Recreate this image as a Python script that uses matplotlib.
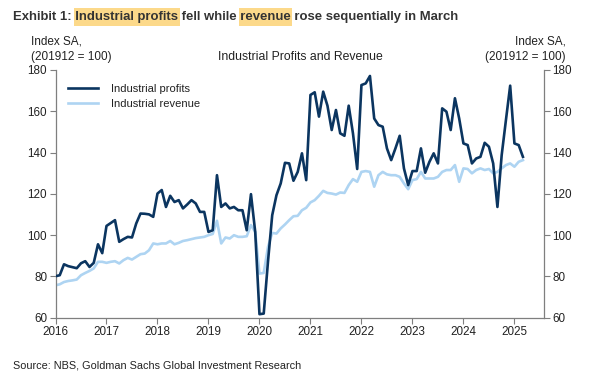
import matplotlib
matplotlib.use("Agg")
import matplotlib.pyplot as plt
import numpy as np
from matplotlib.patches import Rectangle

plt.rcParams['font.family'] = ['Liberation Sans', 'DejaVu Sans']

start_year = 2016
profits = [
    80, 80.5, 85.8, 84.9, 84.4, 83.9, 86.3, 87.3, 84.5, 86.5, 95.5, 91.2,
    104.4, 105.8, 107.2, 96.7, 98, 99.1, 98.8, 105.6, 110.4, 110.3, 110, 108.8,
    120.1, 121.8, 113.6, 119, 116, 116.9, 112.9, 114.8, 116.9, 115.3, 111.2, 111.2,
    101.5, 102.3, 129, 113.6, 115.3, 112.9, 113.6, 112, 112, 102.3, 119.8, 101.5,
    61.6, 61.9, 87, 109.6, 119.3, 125, 135, 134.7, 126.3, 130.6, 139.6, 126.6,
    167.9, 169.2, 157.4, 169.5, 162.7, 150.9, 160.6, 149.3, 148.1, 162.7, 149.3, 132,
    172.7, 173.5, 177.1, 156.5, 153.3, 152.5, 142, 136.3, 142, 148.1, 132.3, 124.2,
    131, 131, 142, 130.2, 135.5, 139.6, 134.7, 161.4, 159.8, 150.9, 166.3, 156.5,
    144.4, 143.6, 134.7, 137.1, 137.9, 144.7, 142.8, 134.7, 113.6, 138.7, 155.7, 172.4,
    144.4, 143.6, 137.9,
]
revenue = [
    75.6, 76.1, 77.2, 77.7, 78, 78.4, 80.5, 81.6, 82.6, 83.8, 87, 87,
    86.5, 87, 87.3, 86.2, 87.8, 88.9, 88.1, 89.4, 90.7, 91, 92.6, 95.9,
    95.5, 95.9, 95.9, 97.1, 95.5, 96.2, 97.1, 97.5, 98, 98.5, 98.8, 99.1,
    99.9, 100.5, 106.9, 95.9, 98.8, 98.3, 99.9, 99.1, 99.1, 99.4, 104.8, 101.5,
    81.3, 81.6, 94.2, 101, 100.7, 103.2, 105.1, 107.2, 109.1, 109.3, 112, 113.2,
    115.8, 116.9, 119, 121.4, 120.4, 120.1, 119.6, 120.6, 120.4, 124.2, 127.1, 125.8,
    130.6, 131, 130.6, 123.4, 129, 130.6, 129.4, 129, 129, 128.2, 125, 122.2,
    126.6, 127.1, 130.6, 127.4, 127.4, 127.4, 128.2, 130.6, 131.5, 131.5, 133.9, 125.8,
    132.3, 132, 129.9, 131.5, 132.3, 131.5, 132, 129.9, 130.6, 132.3, 133.9, 134.7,
    133.1, 135.5, 136.3,
]
year_ticks = list(range(2016, 2026))
y_ticks = [60, 80, 100, 120, 140, 160, 180]

dates = start_year + np.arange(len(profits)) / 12.0

DARK = '#0b3560'
LIGHT = '#aed4f2'
SPINE = '#7f7f7f'
TXT = '#222222'

fig = plt.figure(figsize=(6.03, 3.80), dpi=100)
ax = fig.add_axes([55.5/603, 1-317.5/380, (544-55.5)/603, (317.5-70)/380])

ax.plot(dates, profits, color=DARK, lw=1.9, label='Industrial profits', zorder=3)
ax.plot(dates, revenue, color=LIGHT, lw=1.9, label='Industrial revenue', zorder=2)

ax.set_xlim(2016, 2025.58)
ax.set_ylim(60, 180)
ax.set_xticks(year_ticks)
ax.set_xticklabels([str(y) for y in year_ticks])
ax.set_yticks(y_ticks)
ax.tick_params(axis='both', direction='out', length=4, width=0.8, color=SPINE,
               labelsize=8.4, labelcolor=TXT, pad=2)
ax.tick_params(axis='y', which='both', left=True, right=True, labelleft=True, labelright=True)
for s in ['left', 'right', 'bottom']:
    ax.spines[s].set_color(SPINE)
    ax.spines[s].set_linewidth(0.9)
ax.spines['top'].set_visible(False)

leg = ax.legend(loc='upper left', bbox_to_anchor=(0.01, 0.975), frameon=False, fontsize=8,
                handlelength=2.7, handletextpad=1.2, labelspacing=0.45, borderaxespad=0.3)
for t in leg.get_texts():
    t.set_color(TXT)

fig.text(300/603, 1-57/380, 'Industrial Profits and Revenue', ha='center', va='center',
         fontsize=8.8, color=TXT)
for xpos, ha in [(31/603, 'left'), (566/603, 'right')]:
    fig.text(xpos, 1-42/380, 'Index SA,', ha=ha, va='center', fontsize=8.5, color=TXT)
    fig.text(xpos, 1-57/380, '(201912 = 100)', ha=ha, va='center', fontsize=8.5, color=TXT)

# Title with highlighted words
title = 'Exhibit 1: Industrial profits fell while revenue rose sequentially in March'
tx, ty = 13/603, 1-17/380
tfs = 9.45
title_text = fig.text(tx, ty, title, ha='left', va='center', fontsize=tfs,
                      fontweight='bold', color='#333333', zorder=5)
fig.canvas.draw()
renderer = fig.canvas.get_renderer()

def end_x(prefix):
    t = fig.text(tx, ty, prefix, ha='left', va='center', fontsize=tfs, fontweight='bold', alpha=0)
    bb = t.get_window_extent(renderer)
    t.remove()
    return bb.x1

space = 0.278 * tfs * 100 / 72
HL = '#fcd98a'
for pre, word in [('Exhibit 1:', 'Exhibit 1: Industrial profits'),
                  ('Exhibit 1: Industrial profits fell while', 'Exhibit 1: Industrial profits fell while revenue')]:
    x0 = end_x(pre) + space - 1.5
    x1 = end_x(word) + 1.5
    fig.patches.append(Rectangle((x0/603, 1-25.5/380), (x1-x0)/603, 17/380,
                                 transform=fig.transFigure, facecolor=HL, edgecolor='none', zorder=1))

fig.text(13/603, 1-366/380, 'Source: NBS, Goldman Sachs Global Investment Research',
         ha='left', va='center', fontsize=7.8, color=TXT)

fig.savefig('out.png', dpi=100)
